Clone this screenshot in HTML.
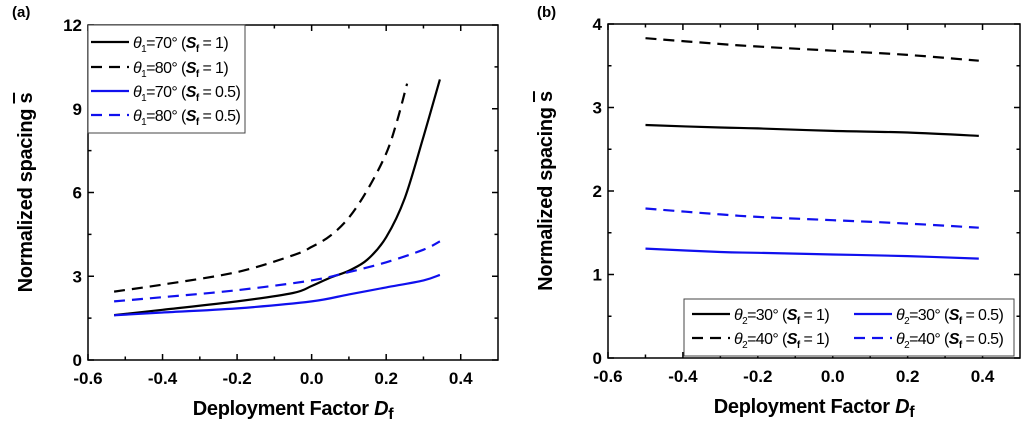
<!DOCTYPE html>
<html><head><meta charset="utf-8"><style>
body{margin:0;background:#fff;width:1024px;height:422px;overflow:hidden;font-family:"Liberation Sans",Arial,sans-serif}
svg text{font-family:"Liberation Sans",Arial,sans-serif}
</style></head><body>
<svg id="s" width="1024" height="422" xmlns="http://www.w3.org/2000/svg"></svg>
<script>
// Panel (a) data
const xA1 = [-0.53,-0.4,-0.2,-0.05,0,0.05,0.1,0.15,0.2,0.25,0.3,0.344];
const yA1 = [1.61,1.8,2.1,2.4,2.65,2.95,3.2,3.6,4.4,5.8,8.0,10.05];
const xA2 = [-0.53,-0.4,-0.2,-0.05,0,0.05,0.1,0.15,0.2,0.23,0.256];
const yA2 = [2.45,2.7,3.15,3.75,4.05,4.45,5.1,6.1,7.4,8.6,9.9];
const xA3 = [-0.53,-0.4,-0.2,0,0.1,0.2,0.3,0.344];
const yA3 = [1.6,1.7,1.85,2.1,2.35,2.6,2.85,3.05];
const xA4 = [-0.53,-0.4,-0.2,0,0.1,0.2,0.3,0.344];
const yA4 = [2.1,2.25,2.5,2.85,3.15,3.5,3.95,4.25];
// Panel (b) data
const xB = [-0.5,-0.3,-0.2,0,0.2,0.39];
const yB1 = [2.79,2.76,2.75,2.72,2.70,2.66];
const yB2 = [3.83,3.76,3.73,3.68,3.63,3.56];
const yB3 = [1.31,1.27,1.26,1.24,1.22,1.19];
const yB4 = [1.79,1.72,1.69,1.65,1.61,1.56];
const xTicks = [-0.6,-0.4,-0.2,0.0,0.2,0.4];
const yTicksA = [0,3,6,9,12];
const yTicksB = [0,1,2,3,4];

const NS="http://www.w3.org/2000/svg", svg=document.getElementById('s');
function el(t,a,p){const e=document.createElementNS(NS,t);for(const k in a)e.setAttribute(k,a[k]);(p||svg).appendChild(e);return e;}
function smooth(pts){
  let d='M'+pts[0][0].toFixed(1)+','+pts[0][1].toFixed(1);
  for(let i=0;i<pts.length-1;i++){
    const p0=pts[Math.max(i-1,0)],p1=pts[i],p2=pts[i+1],p3=pts[Math.min(i+2,pts.length-1)];
    const c1=[p1[0]+(p2[0]-p0[0])/6,p1[1]+(p2[1]-p0[1])/6],c2=[p2[0]-(p3[0]-p1[0])/6,p2[1]-(p3[1]-p1[1])/6];
    d+=` C${c1[0].toFixed(1)},${c1[1].toFixed(1)} ${c2[0].toFixed(1)},${c2[1].toFixed(1)} ${p2[0].toFixed(1)},${p2[1].toFixed(1)}`;
  }
  return d;
}

function panel(o){
  const g=el('g',{});
  
  
  const X=v=>o.L+(v-(-0.6))/1.1*(o.R-o.L);
  const Y=v=>o.B-(v-o.ymin)/(o.ymax-o.ymin)*(o.B-o.T);
  const lab=el('text',{x:o.labX,y:17,'font-size':15,'font-weight':'bold'},g);lab.textContent=o.label;
  
  const tg=el('g',{stroke:'#000','stroke-width':1.5},g);
  for(let i=0;i<xTicks.length;i++){
    const v=xTicks[i], x=X(v);
    el('line',{x1:x,y1:o.B,x2:x,y2:o.B-6},tg);el('line',{x1:x,y1:o.T,x2:x,y2:o.T+6},tg);
    const t=el('text',{x:x,y:o.B+24,'font-size':17,'font-weight':'bold','text-anchor':'middle'},g);
    t.textContent=v.toFixed(1);
    
    const m=X(v+0.1);
    if(m<o.R-1){el('line',{x1:m,y1:o.B,x2:m,y2:o.B-3.5},tg);el('line',{x1:m,y1:o.T,x2:m,y2:o.T+3.5},tg);}
  }
  const yt=o.yticks, step=yt[1]-yt[0];
  for(let i=0;i<yt.length;i++){
    const y=Y(yt[i]);
    el('line',{x1:o.L,y1:y,x2:o.L+6,y2:y},tg);el('line',{x1:o.R,y1:y,x2:o.R-6,y2:y},tg);
    const t=el('text',{x:o.L-6,y:y+6,'font-size':17,'font-weight':'bold','text-anchor':'end'},g);
    t.textContent=yt[i];
    
    if(i<yt.length-1){const m=Y(yt[i]+step/2);
      el('line',{x1:o.L,y1:m,x2:o.L+3.5,y2:m},tg);el('line',{x1:o.R,y1:m,x2:o.R-3.5,y2:m},tg);}
  }
  o.series.forEach(s=>{
    const d=smooth(s.x.map((v,i)=>[X(v),Y(s.y[i])]));
    const p=el('path',{d:d,fill:'none',stroke:s.c,'stroke-width':2.2,'stroke-dasharray':s.dash?'11,7':'none'},g);
    
  });
  const f=el('rect',{x:o.L,y:o.T,width:o.R-o.L,height:o.B-o.T,fill:'none',stroke:'#000','stroke-width':1.5},g);
  
  const xt=el('text',{x:(o.L+o.R)/2,y:o.B+55,'font-size':20,'font-weight':'bold','text-anchor':'middle','letter-spacing':'-0.3'},g);
  xt.innerHTML='Deployment Factor <tspan font-style="italic">D</tspan><tspan font-size="16" dy="4">f</tspan>';
  
  const cy=(o.T+o.B)/2;
  const ytl=el('text',{x:o.ytX,y:cy,'font-size':20,'font-weight':'bold','text-anchor':'middle','letter-spacing':'-0.3',transform:`rotate(-90 ${o.ytX} ${cy})`},g);
  ytl.innerHTML='Normalized spacing <tspan text-decoration="overline">s</tspan>';
  
  return g;
}
function legend(g,bx,by,bw,bh,items){
  const lg=el('g',{},g);
  
  el('rect',{x:bx,y:by,width:bw,height:bh,fill:'#fff',stroke:'#444','stroke-width':1},lg);
  items.forEach(it=>{
    const e=el('g',{},lg);
    
    el('line',{x1:it.x,y1:it.y,x2:it.x+38,y2:it.y,stroke:it.c,'stroke-width':2.2,'stroke-dasharray':it.dash?'11,7':'none'},e);
    const t=el('text',{x:it.x+42,y:it.y+6,'font-size':16,'letter-spacing':'-0.6'},e);
    t.innerHTML=`<tspan font-style="italic">θ</tspan><tspan font-size="10" dy="4">${it.sub}</tspan><tspan dy="-4">=${it.ang}° (</tspan><tspan font-style="italic" font-weight="bold">S</tspan><tspan font-size="10" dy="4" font-weight="bold">f</tspan><tspan dy="-4"> = ${it.sf})</tspan>`;
  });
}
const gA=panel({name:'panel-a',label:'(a)',labX:12,L:88,R:498,T:25,B:360,ymin:0,ymax:12,yticks:yTicksA,ytX:32,
  series:[{x:xA1,y:yA1,c:'#000',n:'line-theta1-70-sf1'},{x:xA2,y:yA2,c:'#000',dash:1,n:'line-theta1-80-sf1'},
  {x:xA3,y:yA3,c:'#1010ee',n:'line-theta1-70-sf05'},{x:xA4,y:yA4,c:'#1010ee',dash:1,n:'line-theta1-80-sf05'}]});
legend(gA,88,25,157,108,[
  {x:91,y:42,c:'#000',sub:'1',ang:70,sf:'1'},{x:91,y:67,c:'#000',dash:1,sub:'1',ang:80,sf:'1'},
  {x:91,y:91,c:'#1010ee',sub:'1',ang:70,sf:'0.5'},{x:91,y:115,c:'#1010ee',dash:1,sub:'1',ang:80,sf:'0.5'}]);
const gB=panel({name:'panel-b',label:'(b)',labX:537,L:608,R:1020,T:24,B:358,ymin:0,ymax:4,yticks:yTicksB,ytX:552,
  series:[{x:xB,y:yB1,c:'#000',n:'line-theta2-30-sf1'},{x:xB,y:yB2,c:'#000',dash:1,n:'line-theta2-40-sf1'},
  {x:xB,y:yB3,c:'#1010ee',n:'line-theta2-30-sf05'},{x:xB,y:yB4,c:'#1010ee',dash:1,n:'line-theta2-40-sf05'}]});
legend(gB,684,299,330,57,[
  {x:692,y:314,c:'#000',sub:'2',ang:30,sf:'1'},{x:692,y:338,c:'#000',dash:1,sub:'2',ang:40,sf:'1'},
  {x:854,y:314,c:'#1010ee',sub:'2',ang:30,sf:'0.5'},{x:854,y:338,c:'#1010ee',dash:1,sub:'2',ang:40,sf:'0.5'}]);
</script>
</body></html>
